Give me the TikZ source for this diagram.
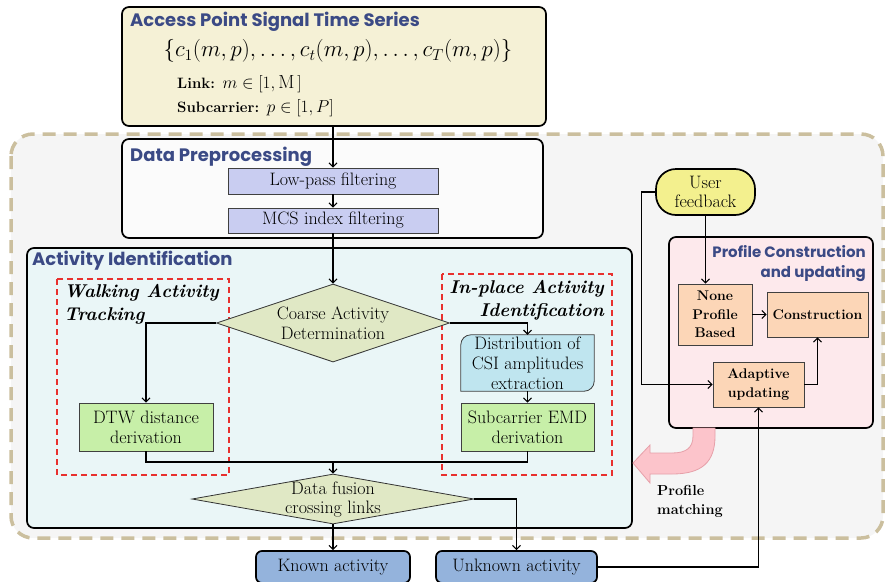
\documentclass[tikz,border=0pt]{standalone}
\usepackage{amssymb}
\usepackage{fontspec}
\usetikzlibrary{arrows.meta,shapes.geometric}
\newfontfamily\titlefont{Poppins}
\definecolor{titleblue}{HTML}{3B4A85}
\definecolor{srcyellow}{HTML}{F5F1D6}
\definecolor{prepwhite}{HTML}{FBFBFB}
\definecolor{filterblue}{HTML}{C9CDF1}
\definecolor{actcyan}{HTML}{EAF6F7}
\definecolor{decisiongreen}{HTML}{E0E8C5}
\definecolor{stepgreen}{HTML}{C7EFA8}
\definecolor{distblue}{HTML}{BFE5EF}
\definecolor{outblue}{HTML}{94B3DC}
\definecolor{profilepink}{HTML}{FDE9EC}
\definecolor{peach}{HTML}{FCD6B7}
\definecolor{feedyellow}{HTML}{F3F08E}
\definecolor{zonered}{HTML}{E8302E}
\definecolor{outertan}{HTML}{CBBF9E}
\definecolor{outergray}{HTML}{F5F5F5}
\definecolor{matchpink}{HTML}{FCC4CB}
\definecolor{matchedge}{HTML}{E6A0A9}
\newcommand\bodysize{\fontsize{18}{19.8}\selectfont}
\tikzset{
  groupbox/.style={draw=black, line width=1.7pt, rounded corners=7pt},
  grouptitle/.style={font=\titlefont\bfseries\fontsize{18}{20}\selectfont,
    text=titleblue, anchor=west, inner sep=0},
  stepbox/.style={draw=black!75, line width=0.8pt, font=\bodysize, align=center, inner sep=0},
  peachbox/.style={draw=black!75, line width=0.8pt, fill=peach, align=center,
    font=\bfseries\fontsize{14}{18.5}\selectfont},
  outbox/.style={draw=black, line width=1.7pt, rounded corners=6pt, fill=outblue,
    font=\bodysize},
  decision/.style={diamond, draw=black!80, line width=0.8pt, fill=decisiongreen, inner sep=0},
  zone/.style={draw=zonered, line width=1.2pt, dash pattern=on 6pt off 4pt},
  zonetitle/.style={font=\bfseries\itshape\fontsize{18.5}{23}\selectfont, inner sep=0},
  flow/.style={-{Straight Barb[length=4pt,width=8pt]}, line width=1.1pt},
  line/.style={line width=1.1pt}
}

\begin{document}
\begin{tikzpicture}[x=1pt,y=-1pt]
  \useasboundingbox (0,0) rectangle (885,581);
  % dashed outer region
  \draw[outertan, fill=outergray, line width=3.5pt, dash pattern=on 13pt off 8pt,
    rounded corners=22pt] (11,134) rectangle (883,538);

  % signal source
  \node[groupbox, fill=srcyellow, minimum width=424, minimum height=119] (src) at (334,66.5) {};
  \node[grouptitle] (srctitle) at (130,22) {Access Point Signal Time Series};
  \node[inner sep=0, scale=1.1, font=\fontsize{20.74}{24}\selectfont] (series) at (338,51)
    {$\{c_1\big(m,p\big),\ldots,c_t\big(m,p\big),\ldots,c_T\big(m,p\big)\}$};
  \node[anchor=west, inner sep=0, font=\bfseries\fontsize{15}{18}\selectfont] (linkrange) at (177,84)
    {Link: \normalfont\fontsize{19}{22}\selectfont$m\in[1,\mathrm{M}\,]$};
  \node[anchor=west, inner sep=0, font=\bfseries\fontsize{15}{18}\selectfont] (subrange) at (177,108)
    {Subcarrier: \normalfont\fontsize{19}{22}\selectfont$p\in[1,P]$};

  % preprocessing
  \node[groupbox, fill=prepwhite, minimum width=421, minimum height=99] (prep) at (332.5,188.5) {};
  \node[grouptitle] (preptitle) at (130,157) {Data Preprocessing};
  \node[stepbox, fill=filterblue, minimum width=210, minimum height=26] (lowpass) at (333,181) {Low-pass filtering};
  \node[stepbox, fill=filterblue, minimum width=210, minimum height=25] (mcs) at (333,220.5) {MCS index filtering};

  % activity identification
  \node[groupbox, fill=actcyan, minimum width=605, minimum height=280] (act) at (329.5,388) {};
  \node[grouptitle] (acttitle) at (32,261) {Activity Identification};
  \draw[zone] (57,279) rectangle (229,475);
  \draw[zone] (442,274) rectangle (612,475);
  \node[zonetitle, anchor=west, align=left] (walktitle) at (64,304.5) {Walking Activity\\Tracking};
  \node[zonetitle, anchor=east, align=right] (placetitle) at (604,300.5) {In-place Activity\\Identification};

  \node[decision, minimum width=233, minimum height=78] (coarse) at (333,323) {};
  \node[font=\bodysize, align=center, inner sep=0] (coarselabel) at (333,323) {Coarse Activity\\Determination};
  \node[stepbox, fill=stepgreen, minimum width=134, minimum height=48] (dtw) at (146,427) {DTW distance\\derivation};
  \path node[minimum width=133, minimum height=56] (dist) at (527.5,363) {};
  \draw[draw=black!75, line width=0.8pt, fill=distblue] (dist.north) -- (dist.north east)
    [rounded corners=10pt] -- (dist.south east) [sharp corners] -- (dist.south west)
    [rounded corners=10pt] -- (dist.north west) [sharp corners] -- cycle;
  \node[font=\bodysize, align=center, inner sep=0] (distlabel) at (527.5,363.5) {Distribution of\\CSI amplitudes\\extraction};
  \node[stepbox, fill=stepgreen, minimum width=133, minimum height=48] (emd) at (527.5,427) {Subcarrier EMD\\derivation};
  \node[decision, minimum width=282, minimum height=50] (fuse) at (333,499) {};
  \node[font=\bodysize, align=center, inner sep=0] (fuselabel) at (333,499.5) {Data fusion\\crossing links};

  % outputs
  \node[outbox, minimum width=154, minimum height=32] (known) at (333,567) {Known activity};
  \node[outbox, minimum width=161, minimum height=32] (unknown) at (516.5,567) {Unknown activity};

  % profile construction
  \node[groupbox, fill=profilepink, minimum width=204, minimum height=191] (profile) at (771,332.5) {};
  \node[grouptitle, anchor=east, align=right, font=\titlefont\bfseries\fontsize{15}{20}\selectfont]
    (profiletitle) at (866,264) {Profile Construction\\and updating};
  \node[draw=black, line width=1.7pt, fill=feedyellow, rounded corners=20pt, minimum width=99,
    minimum height=46, align=center, inner sep=0, font=\bodysize] (user) at (705.5,192) {User\\feedback};
  \node[peachbox, minimum width=74, minimum height=61] (none) at (715,314.5) {None\\Profile\\Based};
  \node[peachbox, minimum width=101, minimum height=45] (constr) at (817.5,314.5) {Construction};
  \node[peachbox, minimum width=91, minimum height=45] (adapt) at (758.5,384.5) {Adaptive\\updating};

  % profile matching arrow
  \draw[matchedge, fill=matchpink, line width=0.8pt] (693,428) -- (693,436)
    .. controls (693,448) and (686,453) .. (672,453) -- (650,453) -- (650,445) -- (633,463)
    -- (650,483) -- (650,474) -- (672,474) .. controls (702,474) and (715,462) .. (715,436)
    -- (715,428) -- cycle;
  \node[anchor=west, align=left, inner sep=0, font=\bfseries\fontsize{14.5}{19}\selectfont]
    (matchlabel) at (657,501.5) {Profile\\matching};

  % connectors
  \draw[flow] (lowpass.north |- src.south) -- (lowpass.north);
  \draw[flow] (lowpass) -- (mcs);
  \draw[flow] (mcs.south) -- (coarse.north);
  \draw[flow] (coarse.west) -| (dtw.north);
  \draw[flow] (coarse.east) -| (dist.north);
  \draw[flow] (dist) -- (emd);
  \coordinate (merge) at (333,462);
  \draw[line] (dtw.south) |- (merge);
  \draw[line] (emd.south) |- (merge);
  \draw[flow] (merge) -- (fuse.north);
  \draw[flow] (fuse.south) -- (fuse.south |- known.north);
  \draw[flow] (fuse.east) -| (unknown.north);
  \draw[flow] (unknown.east) -| (adapt.south);
  \draw[flow] (user.south) -- (user.south |- none.north);
  \draw[flow] (none) -- (constr);
  \draw[flow] (adapt.east) -| (constr.south);
  \draw[flow] (user.west) -- ++(-14,0) |- (adapt.west);
\end{tikzpicture}
\end{document}
